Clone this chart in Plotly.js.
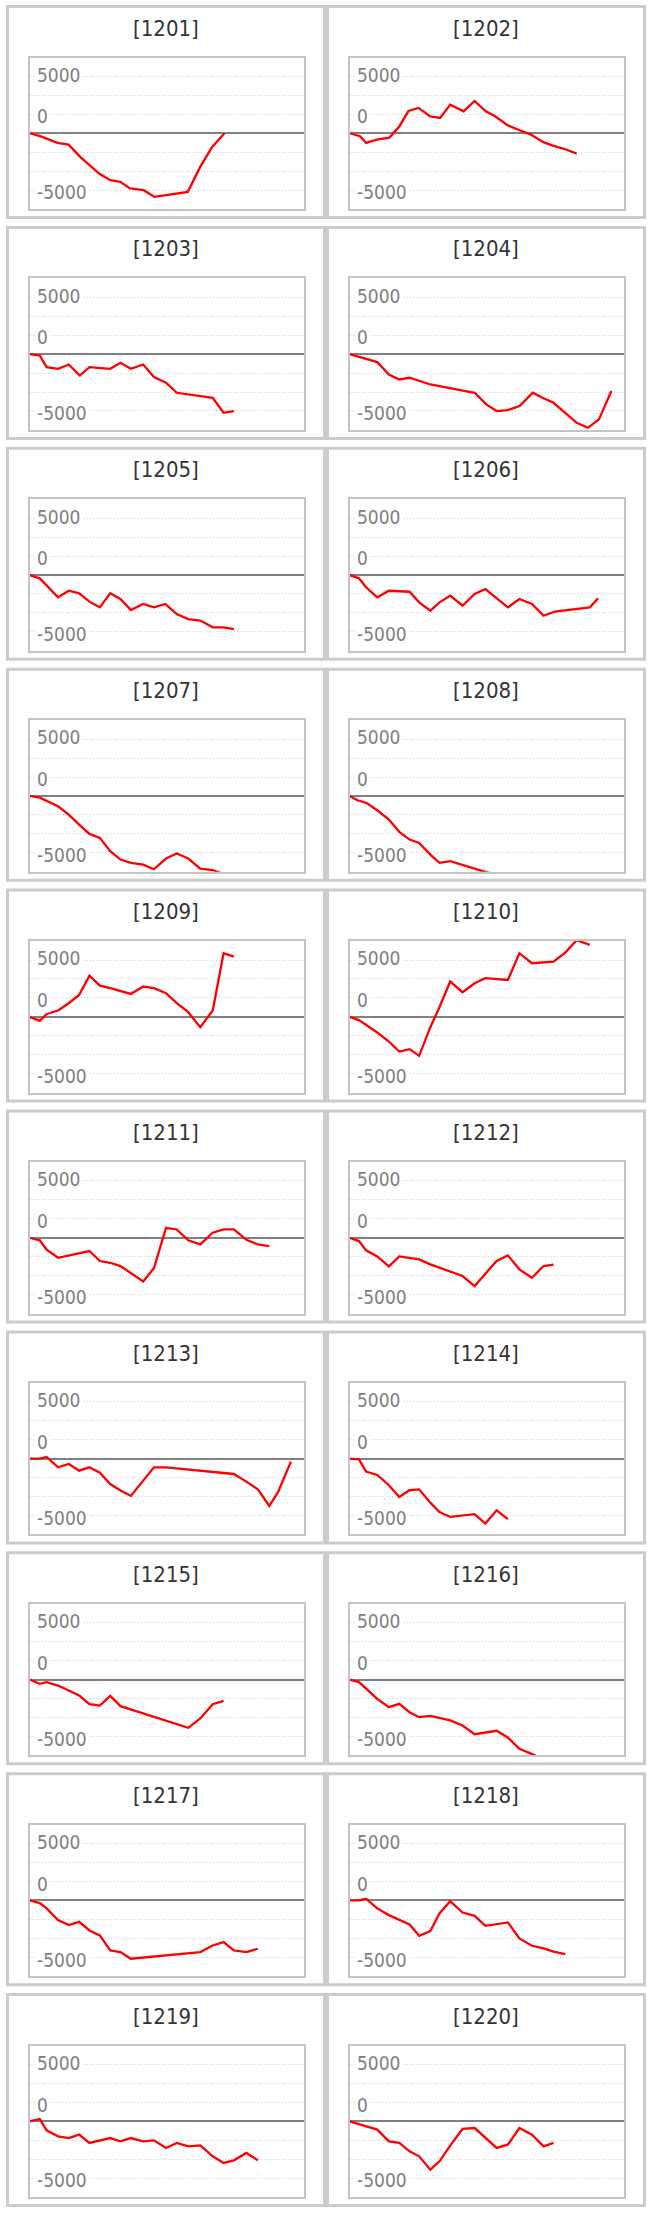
<!DOCTYPE html>
<html>
<head>
<meta charset="utf-8">
<script src="https://cdn.plot.ly/plotly-3.0.1.min.js"></script>
<style>
    body { margin: 0; background: #fff; }
    #chart { width: 649px; height: 2213px; }
</style>
</head>
<body>
<div id="chart"></div>
<script>
// one small chart per code, x = step, y = running total
const codes = ["1201", "1202", "1203", "1204", "1205", "1206", "1207", "1208", "1209", "1210",
               "1211", "1212", "1213", "1214", "1215", "1216", "1217", "1218", "1219", "1220"];

const x1201 = [0, 0.93, 2.45, 3.42, 4.44, 5.26, 6.1, 7.07, 7.95, 8.8, 10.0, 10.95, 13.87, 14.95, 16.0, 17.08];
const y1201 = [0, -260, -850, -1000, -2080, -2810, -3550, -4130, -4280, -4860, -5010, -5600, -5160, -2960, -1200, 0];

const x1202 = [0, 0.93, 1.46, 2.4, 3.5, 4.38, 5.17, 6.04, 7.07, 7.94, 8.82, 10.0, 10.95, 11.94, 12.76, 13.84, 14.9, 15.9, 16.93, 17.87, 18.9, 19.9];
const y1202 = [0, -260, -850, -560, -380, 620, 1960, 2230, 1490, 1350, 2520, 1930, 2840, 1930, 1490, 700, 260, -120, -760, -1110, -1410, -1790];

const x1203 = [0, 0.9, 1.5, 2.5, 3.44, 4.4, 5.25, 7.07, 7.97, 8.88, 9.96, 10.9, 11.96, 12.9, 16.05, 17.0, 17.9];
const y1203 = [0, -120, -1140, -1290, -910, -1880, -1140, -1290, -760, -1290, -910, -2020, -2520, -3400, -3840, -5160, -5010];

const x1204 = [0, 1.27, 2.43, 3.45, 4.36, 5.26, 7.08, 10.96, 11.98, 12.89, 13.87, 14.9, 16.05, 16.9, 17.87, 18.9, 19.9, 20.9, 21.85, 22.94];
const y1204 = [0, -380, -700, -1790, -2230, -2080, -2670, -3400, -4420, -5010, -4920, -4570, -3400, -3840, -4280, -5160, -6040, -6480, -5740, -3250];

const x1205 = [0, 0.9, 2.5, 3.44, 4.35, 5.25, 6.16, 7.07, 7.97, 8.88, 9.96, 10.9, 11.9, 12.9, 13.9, 14.96, 16.05, 17.0, 17.9];
const y1205 = [0, -290, -1960, -1380, -1610, -2340, -2840, -1610, -2110, -3080, -2550, -2840, -2550, -3430, -3870, -4010, -4600, -4600, -4750];

const x1206 = [0, 0.83, 1.45, 2.43, 3.45, 5.26, 6.1, 7.08, 7.88, 8.82, 9.9, 10.96, 11.9, 12.89, 13.87, 14.88, 15.98, 17.0, 17.97, 21.05, 21.78];
const y1206 = [0, -290, -1080, -1960, -1380, -1470, -2400, -3140, -2400, -1820, -2700, -1670, -1230, -2050, -2840, -2110, -2550, -3580, -3220, -2840, -2050];

const x1207 = [0, 0.9, 2.5, 3.44, 4.35, 5.25, 6.16, 7.07, 7.97, 8.88, 9.96, 10.9, 11.96, 12.9, 13.9, 14.96, 16.05, 17.0, 17.9];
const y1207 = [0, -150, -910, -1640, -2520, -3340, -3690, -4860, -5600, -5890, -6040, -6450, -5510, -5070, -5510, -6390, -6530, -6900, -7200];

const x1208 = [0, 0.7, 1.5, 2.43, 3.45, 4.36, 5.26, 6.1, 7.08, 7.88, 8.82, 9.9, 10.96, 11.6, 12.9];
const y1208 = [0, -380, -620, -1260, -2080, -3160, -3840, -4130, -5160, -5890, -5740, -6090, -6390, -6590, -6970];

const x1209 = [0, 0.9, 1.5, 2.5, 3.44, 4.35, 5.25, 6.16, 7.07, 8.88, 9.96, 10.9, 11.96, 12.9, 13.9, 14.96, 16.05, 17.0, 17.9];
const y1209 = [0, -350, 260, 560, 1200, 1930, 3630, 2750, 2520, 2020, 2670, 2520, 2080, 1200, 410, -910, 560, 5600, 5300];

const x1210 = [0, 0.83, 2.43, 3.45, 4.36, 5.26, 6.1, 7.08, 7.88, 8.82, 9.9, 10.96, 11.9, 13.87, 14.88, 15.98, 17.87, 18.9, 19.9, 21.05];
const y1210 = [0, -290, -1380, -2170, -3050, -2840, -3430, -910, 850, 3110, 2170, 2960, 3400, 3250, 5600, 4720, 4860, 5660, 6750, 6330];

const x1211 = [0, 0.9, 1.5, 2.5, 5.25, 6.16, 7.07, 7.97, 9.96, 10.9, 11.96, 12.9, 13.9, 14.96, 16.05, 17.0, 17.9, 19.0, 20.0, 21.0];
const y1211 = [0, -230, -1060, -1760, -1170, -2050, -2200, -2490, -3840, -2670, 880, 730, -230, -590, 440, 730, 730, -180, -590, -730];

const x1212 = [0, 0.83, 1.45, 2.43, 3.45, 4.36, 6.1, 7.08, 9.9, 10.96, 11.9, 12.89, 13.87, 14.88, 15.98, 17.0, 17.87];
const y1212 = [0, -290, -1110, -1640, -2520, -1640, -1900, -2340, -3370, -4250, -3160, -2050, -1550, -2780, -3520, -2490, -2370];

const x1213 = [0, 0.9, 1.5, 2.5, 3.44, 4.35, 5.25, 6.16, 7.07, 7.97, 8.88, 10.9, 11.96, 17.9, 19.0, 20.0, 21.0, 21.75, 22.9];
const y1213 = [0, 0, 150, -760, -470, -1060, -760, -1230, -2230, -2810, -3280, -760, -760, -1350, -2020, -2700, -4160, -2990, -260];

const x1214 = [0, 0.83, 1.45, 2.43, 3.45, 4.36, 5.26, 6.1, 7.08, 7.88, 8.82, 10.96, 11.9, 12.89, 13.87];
const y1214 = [0, -60, -1140, -1440, -2340, -3370, -2780, -2700, -3870, -4690, -5130, -4890, -5710, -4540, -5330];

const x1215 = [0, 0.9, 1.5, 2.5, 3.44, 4.35, 5.25, 6.16, 7.07, 7.97, 13.9, 14.96, 16.05, 17.0];
const y1215 = [0, -380, -230, -530, -970, -1410, -2170, -2290, -1440, -2340, -4250, -3430, -2170, -1880];

const x1216 = [0, 0.83, 2.43, 3.45, 4.36, 5.26, 6.1, 7.08, 8.82, 9.9, 10.96, 11.9, 12.89, 13.87, 14.88, 15.8, 16.9];
const y1216 = [0, -230, -1700, -2430, -2140, -2870, -3310, -3190, -3600, -4040, -4810, -4660, -4510, -5100, -6090, -6480, -6970];

const x1217 = [0, 0.9, 1.5, 2.5, 3.44, 4.35, 5.25, 6.16, 7.07, 7.97, 8.88, 14.96, 16.05, 17.0, 17.9, 19.0, 20.0];
const y1217 = [0, -230, -700, -1730, -2170, -1880, -2640, -3080, -4400, -4540, -5130, -4540, -3960, -3660, -4400, -4540, -4250];

const x1218 = [0, 0.83, 1.45, 2.43, 3.45, 4.36, 5.26, 6.1, 7.08, 7.88, 8.82, 9.9, 10.96, 11.9, 13.87, 14.88, 15.98, 17.0, 17.87, 18.9];
const y1218 = [0, 0, 150, -700, -1290, -1730, -2110, -3110, -2700, -1140, -60, -1060, -1350, -2230, -1930, -3340, -3990, -4220, -4510, -4720];

const x1219 = [0, 0.9, 1.5, 2.5, 3.44, 4.35, 5.25, 6.16, 7.07, 7.97, 8.88, 9.96, 10.9, 11.96, 12.9, 13.9, 14.96, 16.05, 17.0, 17.9, 19.0, 20.0];
const y1219 = [0, 210, -790, -1320, -1470, -1170, -1900, -1700, -1470, -1760, -1470, -1760, -1670, -2340, -1900, -2200, -2110, -3080, -3660, -3430, -2780, -3430];

const x1220 = [0, 1.27, 2.43, 3.45, 4.36, 5.26, 6.1, 7.08, 7.88, 8.82, 9.9, 10.96, 11.9, 12.89, 13.87, 14.88, 15.98, 17.0, 17.87];
const y1220 = [0, -380, -730, -1760, -1900, -2640, -3080, -4250, -3520, -2140, -670, -590, -1410, -2340, -2050, -590, -1170, -2200, -1900];

const yLabels = ["5000", "0", "-5000"];

const seriesX = [x1201, x1202, x1203, x1204, x1205, x1206, x1207, x1208, x1209, x1210,
                 x1211, x1212, x1213, x1214, x1215, x1216, x1217, x1218, x1219, x1220];
const seriesY = [y1201, y1202, y1203, y1204, y1205, y1206, y1207, y1208, y1209, y1210,
                 y1211, y1212, y1213, y1214, y1215, y1216, y1217, y1218, y1219, y1220];

function drawCharts() {

    const W = 649, H = 2213;
    const rowPitch = 220.9, colPitch = 320;
    const yLim = 20000 / 3;
    const labelAt = [5150, 1480, -5200];
    const fontFamily = "'DejaVu Sans Condensed', 'DejaVu Sans', sans-serif";

    let traces = [];
    let shapes = [];
    let annotations = [];

    let layout = {
        width: W,
        height: H,
        margin: {l: 0, r: 0, t: 0, b: 0},
        paper_bgcolor: '#ffffff',
        plot_bgcolor: '#ffffff',
        showlegend: false,
        font: {family: fontFamily}
    };

    for(let i = 0; i < codes.length; i++) {

        let row = Math.floor(i / 2);
        let col = i % 2;
        let sfx = i == 0 ? '' : String(i + 1);

        let px0 = 29.5 + colPitch * col, px1 = 303.5 + colPitch * col;
        let py0 = 57.5 + rowPitch * row, py1 = 209 + rowPitch * row;

        layout['xaxis' + sfx] = {
            domain: [px0 / W, px1 / W],
            range: [0, 24],
            anchor: 'y' + sfx,
            showgrid: false,
            zeroline: false,
            showticklabels: false,
            ticks: '',
            showline: true,
            mirror: true,
            linecolor: '#c4c4c4',
            linewidth: 2,
            fixedrange: true
        };

        layout['yaxis' + sfx] = {
            domain: [1 - py1 / H, 1 - py0 / H],
            range: [-yLim, yLim],
            anchor: 'x' + sfx,
            tick0: 0,
            dtick: yLim / 4,
            showgrid: true,
            gridcolor: '#cfcfcf',
            griddash: '1px,2px',
            gridwidth: 1,
            zeroline: true,
            zerolinecolor: '#808080',
            zerolinewidth: 2,
            showticklabels: false,
            ticks: '',
            showline: true,
            mirror: true,
            linecolor: '#c4c4c4',
            linewidth: 2,
            fixedrange: true
        };

        traces.push({
            type: 'scatter',
            mode: 'lines',
            x: seriesX[i],
            y: seriesY[i],
            xaxis: 'x' + sfx,
            yaxis: 'y' + sfx,
            line: {color: '#ff0000', width: 2.3},
            hoverinfo: 'skip'
        });

        // outer frame of the panel
        shapes.push({
            type: 'rect',
            xref: 'paper',
            yref: 'paper',
            x0: (7.5 + colPitch * col) / W,
            x1: (324.5 + colPitch * col) / W,
            y0: 1 - (217.5 + rowPitch * row) / H,
            y1: 1 - (6.5 + rowPitch * row) / H,
            line: {color: '#cccccc', width: 3}
        });

        annotations.push({
            xref: 'paper',
            yref: 'paper',
            x: (166 + colPitch * col) / W,
            y: 1 - (28 + rowPitch * row) / H,
            xanchor: 'center',
            yanchor: 'middle',
            text: '[' + codes[i] + ']',
            showarrow: false,
            font: {family: fontFamily, size: 22, color: '#333333'}
        });

        for(let k = 0; k < yLabels.length; k++) {

            annotations.push({
                xref: 'x' + sfx + ' domain',
                yref: 'y' + sfx,
                x: 0,
                y: labelAt[k],
                xshift: 5,
                xanchor: 'left',
                yanchor: 'middle',
                text: yLabels[k],
                showarrow: false,
                bgcolor: '#ffffff',
                borderpad: 1,
                font: {family: fontFamily, size: 19, color: '#7f7f7f'}
            });

        }

    }

    layout.shapes = shapes;
    layout.annotations = annotations;

    Plotly.newPlot('chart', traces, layout, {staticPlot: true, displayModeBar: false});

}

drawCharts();
</script>
</body>
</html>
